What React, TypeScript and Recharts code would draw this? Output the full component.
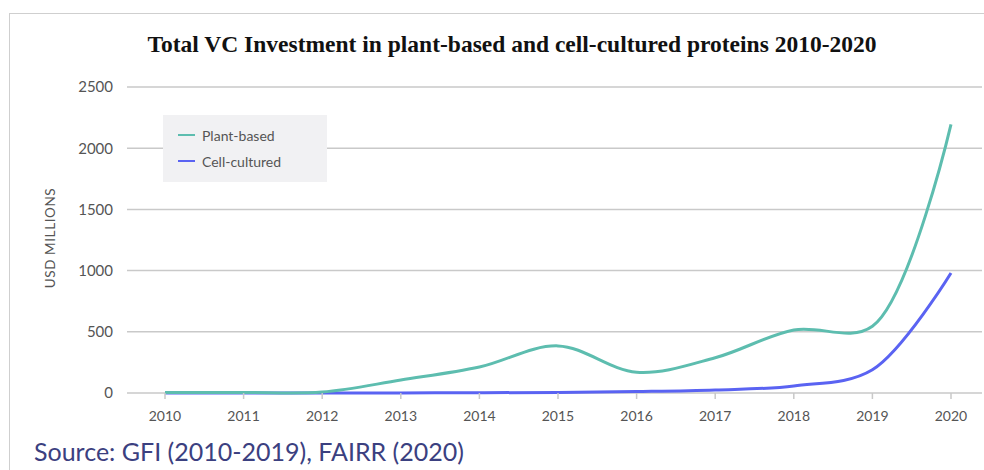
import { LineChart, Line, XAxis, YAxis, CartesianGrid } from "recharts";

const years = ["2010", "2011", "2012", "2013", "2014", "2015", "2016", "2017", "2018", "2019", "2020"];
const plantBased = [5, 5, 8, 106, 212, 385, 170, 288, 515, 545, 2195];
const cellCultured = [0, 0, 0, 1, 2, 5, 12, 25, 58, 190, 980];
const yTicks = [0, 500, 1000, 1500, 2000, 2500];

const data = years.map((year, i) => ({
  year,
  plant: plantBased[i],
  cell: cellCultured[i],
}));

const PLANT = "#5dbdaf";
const CELL = "#5a63f2";
const GRID = "#c9c9c9";
const TICK_FONT = "Lato, 'Open Sans', sans-serif";

// centripetal catmull-rom, same math as d3's curveCatmullRom
function catmullRom(context: any) {
  let pts: number[][] = [];
  const alpha = 0.5;
  const dist = (a: number[], b: number[]) =>
    Math.pow((a[0] - b[0]) ** 2 + (a[1] - b[1]) ** 2, alpha / 2);
  return {
    areaStart() {},
    areaEnd() {},
    lineStart() {
      pts = [];
    },
    point(x: number, y: number) {
      pts.push([+x, +y]);
    },
    lineEnd() {
      if (!pts.length) return;
      context.moveTo(pts[0][0], pts[0][1]);
      for (let i = 0; i < pts.length - 1; i++) {
        const p0 = pts[i - 1];
        const p1 = pts[i];
        const p2 = pts[i + 1];
        const p3 = pts[i + 2];
        const l12 = dist(p1, p2);
        let c1 = p1;
        let c2 = p2;
        if (p0) {
          const l01 = dist(p0, p1);
          if (l01 > 1e-9) {
            const a = 2 * l01 * l01 + 3 * l01 * l12 + l12 * l12;
            const n = 3 * l01 * (l01 + l12);
            c1 = [0, 1].map(
              (k) => (p1[k] * a - p0[k] * l12 * l12 + p2[k] * l01 * l01) / n
            );
          }
        }
        if (p3) {
          const l23 = dist(p2, p3);
          if (l23 > 1e-9) {
            const b = 2 * l23 * l23 + 3 * l23 * l12 + l12 * l12;
            const m = 3 * l23 * (l23 + l12);
            c2 = [0, 1].map(
              (k) => (p2[k] * b + p1[k] * l23 * l23 - p3[k] * l12 * l12) / m
            );
          }
        }
        context.bezierCurveTo(c1[0], c1[1], c2[0], c2[1], p2[0], p2[1]);
      }
    },
  };
}

const legendItems = [
  { label: "Plant-based", color: PLANT },
  { label: "Cell-cultured", color: CELL },
];

function LegendBox() {
  return (
    <div
      style={{
        position: "absolute",
        left: 163,
        top: 115,
        width: 164,
        height: 67,
        background: "#f1f1f3",
        boxSizing: "border-box",
        paddingTop: 7,
        paddingLeft: 15,
      }}
    >
      {legendItems.map((item) => (
        <div
          key={item.label}
          style={{ display: "flex", alignItems: "center", height: 26 }}
        >
          <span
            style={{
              display: "inline-block",
              width: 17,
              height: 2,
              background: item.color,
              marginRight: 7,
            }}
          />
          <span style={{ fontFamily: TICK_FONT, fontSize: 14, color: "#555" }}>
            {item.label}
          </span>
        </div>
      ))}
    </div>
  );
}

export default function App() {
  return (
    <div
      style={{
        position: "absolute",
        left: 0,
        top: 0,
        width: 984,
        height: 470,
        background: "#fff",
        overflow: "hidden",
      }}
    >
      <div
        style={{
          position: "absolute",
          left: 9,
          top: 13,
          width: 1100,
          height: 600,
          border: "1.5px solid #cfcfcf",
        }}
      />
      <div
        style={{
          position: "absolute",
          left: 0,
          width: 1024,
          top: 31,
          textAlign: "center",
          fontFamily: "'Liberation Serif', 'Times New Roman', serif",
          fontWeight: "bold",
          fontSize: 23.5,
          color: "#111",
          whiteSpace: "nowrap",
        }}
      >
        Total VC Investment in plant-based and cell-cultured proteins 2010-2020
      </div>
      <div
        style={{
          position: "absolute",
          left: 50,
          top: 238,
          transform: "translate(-50%, -50%) rotate(-90deg)",
          whiteSpace: "nowrap",
          fontFamily: TICK_FONT,
          fontSize: 13.5,
          color: "#555",
          letterSpacing: 0.6,
        }}
      >
        USD MILLIONS
      </div>
      <div style={{ position: "absolute", left: 0, top: 0 }}>
        <LineChart
          width={984}
          height={470}
          data={data}
          margin={{ top: 87, right: 2, bottom: 37, left: 0 }}
        >
          <CartesianGrid vertical={false} stroke={GRID} strokeWidth={1.5} />
          <XAxis
            dataKey="year"
            padding={{ left: 38, right: 31 }}
            axisLine={false}
            tickLine={{ stroke: GRID, strokeWidth: 1.5 }}
            tickSize={6}
            tickMargin={12}
            height={40}
            interval={0}
            tick={{ fill: "#555", fontSize: 14, fontFamily: TICK_FONT }}
          />
          <YAxis
            width={127}
            domain={[0, 2500]}
            ticks={yTicks}
            axisLine={false}
            tickLine={false}
            tickSize={6}
            tickMargin={8}
            tick={{ fill: "#555", fontSize: 15, fontFamily: TICK_FONT }}
          />
          <Line
            type={catmullRom as any}
            dataKey="cell"
            name="Cell-cultured"
            stroke={CELL}
            strokeWidth={3}
            dot={false}
            isAnimationActive={false}
          />
          <Line
            type={catmullRom as any}
            dataKey="plant"
            name="Plant-based"
            stroke={PLANT}
            strokeWidth={3}
            dot={false}
            isAnimationActive={false}
          />
        </LineChart>
      </div>
      <LegendBox />
      <div
        style={{
          position: "absolute",
          left: 34,
          top: 436,
          fontFamily: TICK_FONT,
          fontSize: 25,
          color: "#3b4080",
          whiteSpace: "nowrap",
        }}
      >
        Source: GFI (2010-2019), FAIRR (2020)
      </div>
    </div>
  );
}
